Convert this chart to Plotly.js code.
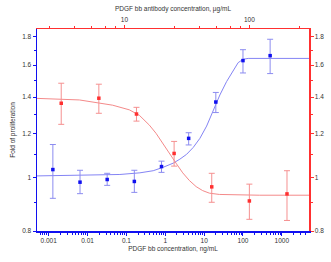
<!DOCTYPE html>
<html>
<head>
<meta charset="utf-8">
<script src="https://cdn.plot.ly/plotly-3.0.1.min.js"></script>
<style>
html,body{margin:0;padding:0;background:#fff;}
#chart{width:331px;height:262px;}
</style>
</head>
<body>
<div id="chart"></div>
<script>
// PDGF bb (ng/mL) – blue series, bottom/left axes
const blueConc = [0.00128, 0.0064, 0.032, 0.16, 0.8, 4, 20, 100, 500];
const blueMean = [1.034, 0.981, 0.992, 0.984, 1.047, 1.178, 1.371, 1.630, 1.664];
const blueHigh = [1.148, 1.031, 1.018, 1.031, 1.071, 1.206, 1.427, 1.706, 1.782];
const blueLow  = [0.917, 0.935, 0.968, 0.940, 1.022, 1.146, 1.312, 1.548, 1.544];
const blueFitX = [0.0005, 0.068, 0.222, 0.489, 0.884, 1.60, 2.38, 3.54, 5.23, 7.78, 11.6, 17.1, 25.4, 37.8, 56, 75, 101, 136, 5000];
const blueFitY = [1.007, 1.013, 1.020, 1.029, 1.044, 1.062, 1.080, 1.102, 1.134, 1.178, 1.240, 1.327, 1.412, 1.493, 1.568, 1.616, 1.639, 1.645, 1.645];

// PDGF bb antibody (µg/mL) – red series, top/right axes
const redConc = [3.125, 6.25, 12.5, 25, 50, 100, 200];
const redMean = [1.364, 1.393, 1.304, 1.106, 0.962, 0.907, 0.934];
const redHigh = [1.483, 1.477, 1.341, 1.163, 1.018, 0.973, 1.029];
const redLow  = [1.249, 1.308, 1.266, 1.049, 0.902, 0.840, 0.836];
const redFitX = [2, 4.37, 8.06, 9.12, 10.96, 13.18, 15.85, 17.93, 20.25, 22.9, 25.9, 29.3, 33.1, 37.5, 42.3, 47.9, 57.5, 120, 300];
const redFitY = [1.392, 1.383, 1.353, 1.341, 1.327, 1.297, 1.245, 1.203, 1.153, 1.106, 1.062, 1.020, 0.988, 0.963, 0.947, 0.937, 0.932, 0.929, 0.929];

// tick labels
const bottomTicks = [0.001, 0.01, 0.1, 1, 10, 100, 1000];
const bottomTickText = ['0.001', '0.01', '0.1', '1', '10', '100', '1000'];
const topTicks = [10, 100];
const topTickText = ['10', '100'];
const topMinor = [2.5, 4, 5.5, 7, 8.5, 25, 40, 55, 70, 85, 250];
const yTicks = [0.8, 1, 1.2, 1.4, 1.6, 1.8];
const yTickText = ['0.8', '1', '1.2', '1.4', '1.6', '1.8'];
const yMinor = [0.9, 1.1, 1.3, 1.5, 1.7];

const bottomMinor = [];
[0.0001, 0.001, 0.01, 0.1, 1, 10, 100, 1000].forEach(d => {
  for (let k = 2; k <= 9; k++) {
    const v = +(d * k).toPrecision(3);
    if (v > 0.0005 && v < 5000) bottomMinor.push(v);
  }
});

const BLUE = '#1010f0', RED = '#ff3030';
const BLUE_L = '#8c8cf0', RED_L = '#f59090';
const FONT = 'Liberation Sans, Arial, sans-serif';
const L10 = Math.log10;

const traces = [
  {x: blueFitX, y: blueFitY, type: 'scatter', mode: 'lines', xaxis: 'x', yaxis: 'y',
   line: {color: '#8484f4', width: 1}, hoverinfo: 'skip'},
  {x: redFitX, y: redFitY, type: 'scatter', mode: 'lines', xaxis: 'x2', yaxis: 'y2',
   line: {color: '#f48a8a', width: 1}, hoverinfo: 'skip'},
  {x: blueConc, y: blueMean, type: 'scatter', mode: 'markers', xaxis: 'x', yaxis: 'y',
   marker: {symbol: 'square', size: 3.5, color: BLUE},
   error_y: {type: 'data', symmetric: false,
     array: blueHigh.map((h, i) => h - blueMean[i]),
     arrayminus: blueLow.map((l, i) => blueMean[i] - l),
     color: BLUE_L, thickness: 1, width: 3}},
  {x: redConc, y: redMean, type: 'scatter', mode: 'markers', xaxis: 'x2', yaxis: 'y2',
   marker: {symbol: 'square', size: 3.5, color: RED},
   error_y: {type: 'data', symmetric: false,
     array: redHigh.map((h, i) => h - redMean[i]),
     arrayminus: redLow.map((l, i) => redMean[i] - l),
     color: RED_L, thickness: 1, width: 3}}
];

const tickFont = {family: FONT, size: 6.5, color: '#333'};
const titleFont = {family: FONT, size: 6.5, color: '#333'};

const layout = {
  width: 331, height: 262,
  margin: {l: 37, r: 22, t: 29, b: 31, pad: 0},
  paper_bgcolor: '#fff', plot_bgcolor: '#fff',
  showlegend: false,
  font: {family: FONT},
  xaxis: {
    type: 'log', range: [L10(0.0005), L10(5000)],
    tickmode: 'array', tickvals: bottomTicks, ticktext: bottomTickText,
    ticks: 'outside', ticklen: 3, tickwidth: 1, tickcolor: BLUE,
    showline: true, linecolor: BLUE, linewidth: 1.5, mirror: false,
    showgrid: false, zeroline: false, tickfont: tickFont,
    minor: {tickmode: 'array', tickvals: bottomMinor, ticks: 'outside', ticklen: 2, tickcolor: BLUE, tickwidth: 1, showgrid: false},
    title: {text: 'PDGF bb concentration, ng/mL', font: titleFont, standoff: 3}
  },
  xaxis2: {
    type: 'log', range: [L10(2), L10(300)], overlaying: 'x', side: 'top', anchor: 'y',
    tickmode: 'array', tickvals: topTicks, ticktext: topTickText,
    ticks: 'outside', ticklen: 3, tickwidth: 1, tickcolor: RED,
    showline: true, linecolor: RED, linewidth: 1.5,
    showgrid: false, zeroline: false, tickfont: tickFont,
    minor: {tickmode: 'array', tickvals: topMinor, ticks: 'outside', ticklen: 2, tickcolor: RED, tickwidth: 1, showgrid: false},
    title: {text: 'PDGF bb antibody concentration, µg/mL', font: titleFont, standoff: 3}
  },
  yaxis: {
    type: 'log', range: [L10(0.8), L10(1.86)],
    tickmode: 'array', tickvals: yTicks, ticktext: yTickText,
    ticks: 'outside', ticklen: 3, tickwidth: 1, tickcolor: BLUE,
    showline: true, linecolor: BLUE, linewidth: 1.5,
    showgrid: false, zeroline: false, tickfont: tickFont,
    minor: {tickmode: 'array', tickvals: yMinor, ticks: 'outside', ticklen: 2, tickcolor: BLUE, tickwidth: 1, showgrid: false},
    title: {text: 'Fold of proliferation', font: titleFont, standoff: 6}
  },
  yaxis2: {
    type: 'log', range: [L10(0.8), L10(1.86)], overlaying: 'y', side: 'right', anchor: 'x2',
    tickmode: 'array', tickvals: yTicks, ticktext: yTickText,
    ticks: 'outside', ticklen: 3, tickwidth: 1, tickcolor: RED,
    showline: true, linecolor: RED, linewidth: 1.5,
    showgrid: false, zeroline: false, tickfont: tickFont,
    minor: {tickmode: 'array', tickvals: yMinor, ticks: 'outside', ticklen: 2, tickcolor: RED, tickwidth: 1, showgrid: false}
  }
};

Plotly.newPlot('chart', traces, layout, {staticPlot: true, displayModeBar: false});
</script>
</body>
</html>
